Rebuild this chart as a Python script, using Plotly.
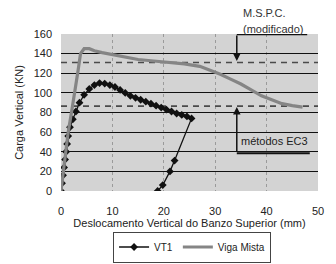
import plotly.graph_objects as go

# ---- data ----
vt1_x = [0, 0.2, 0.4, 0.6, 0.8, 1.0, 1.2, 1.4, 1.75, 2.3, 2.9, 3.6, 4.5, 5.5, 6.5, 7.5,
         8.5, 9.5, 10.5, 11.5, 12.5, 13.5, 14.5, 15.5, 16.5, 17.5, 18.5, 19.5, 20.5,
         21.5, 22.5, 23.5, 24.5, 25.4, 22.1, 21.2, 19.8, 18.8]
vt1_y = [0, 8, 16, 24, 32, 40, 48, 56, 65, 73, 81, 90, 98, 104, 108, 110,
         109.5, 108, 106, 103, 100, 97, 95, 93, 91, 89, 87, 85, 83,
         81, 79, 77.5, 76, 74, 31, 20, 6, 0]

viga_x = [0, 0.7, 1.4, 2.1, 2.7, 3.3, 3.8, 4.5, 5.5, 6.5, 8, 10, 12, 15, 18, 21, 24,
          27, 29, 31, 33, 35, 37, 39, 41, 43, 45, 47]
viga_y = [0, 30, 60, 82, 100, 122, 140, 145, 145, 143, 141, 139, 137, 134, 132.5, 131,
          129.5, 127, 123, 119, 114, 109, 103, 97, 93, 89, 87, 85.5]

ref_x = [0, 50]
mspc_level = [131, 131]
ec3_level = [86.5, 86.5]

x_ticks = [0, 10, 20, 30, 40, 50]
y_ticks = [0, 20, 40, 60, 80, 100, 120, 140, 160]

FONT = "Liberation Sans, Arial, sans-serif"

fig = go.Figure()

fig.add_trace(go.Scatter(x=ref_x, y=mspc_level, mode="lines", showlegend=False,
                         line=dict(color="#4a4a4a", width=1.6, dash="6px,5px"),
                         hoverinfo="skip"))
fig.add_trace(go.Scatter(x=ref_x, y=ec3_level, mode="lines", showlegend=False,
                         line=dict(color="#4a4a4a", width=1.6, dash="6px,5px"),
                         hoverinfo="skip"))

fig.add_trace(go.Scatter(x=vt1_x, y=vt1_y, mode="lines+markers", name="VT1",
                         line=dict(color="#111111", width=1.3),
                         marker=dict(symbol="diamond", size=6, color="#111111")))
fig.add_trace(go.Scatter(x=viga_x, y=viga_y, mode="lines", name="Viga Mista",
                         line=dict(color="#858585", width=3.2)))

# callout: M.S.P.C. (modificado)
fig.add_annotation(x=34.2, y=132.5, ax=34.2, ay=160, xref="x", yref="y",
                   axref="x", ayref="y", showarrow=True, arrowhead=2,
                   arrowsize=1, arrowwidth=1.5, arrowcolor="#111", text="")
fig.add_shape(type="line", x0=34.2, x1=47.9, y0=160, y1=160, xref="x", yref="y",
              line=dict(color="#111", width=2.5))
fig.add_annotation(x=0.70, y=1.032, xref="paper", yref="paper", xanchor="left",
                   yanchor="middle", text="(modificado)", showarrow=False,
                   font=dict(family=FONT, size=11, color="#333"))
fig.add_annotation(x=0.70, y=1.134, xref="paper", yref="paper", xanchor="left",
                   yanchor="middle", text="M.S.P.C.", showarrow=False,
                   font=dict(family=FONT, size=11, color="#333"))

# callout: métodos EC3
fig.add_annotation(x=34.2, y=85.5, ax=34.2, ay=38.5, xref="x", yref="y",
                   axref="x", ayref="y", showarrow=True, arrowhead=2,
                   arrowsize=1, arrowwidth=1.5, arrowcolor="#111", text="")
fig.add_shape(type="line", x0=34.2, x1=48.4, y0=38.5, y1=38.5, xref="x", yref="y",
              line=dict(color="#111", width=2))
fig.add_annotation(x=34.7, y=51, xref="x", yref="y", xanchor="left",
                   text="métodos EC3", showarrow=False,
                   font=dict(family=FONT, size=11, color="#222"))

# page body has an 8px margin, so the figure is offset by 8px
fig.update_layout(
    width=328, height=256,
    margin=dict(l=53, r=18, t=26, b=73, autoexpand=False),
    paper_bgcolor="white", plot_bgcolor="#d3d3d3",
    font=dict(family=FONT, size=11, color="#222"),
    showlegend=True,
    legend=dict(orientation="h", x=0.51, xanchor="center", y=-0.258, yanchor="top",
                bordercolor="#444", borderwidth=1, bgcolor="white",
                font=dict(family=FONT, size=10, color="#222"),
                itemwidth=30, tracegroupgap=0),
)
fig.update_xaxes(range=[0, 50], tickvals=x_ticks, showgrid=True,
                 gridcolor="#9a9a9a", griddash="dot", gridwidth=1,
                 zeroline=False, showline=False, ticks="", automargin=False,
                 ticklabelstandoff=12,
                 title=dict(text="Deslocamento Vertical do Banzo Superior (mm)",
                            standoff=1, font=dict(family=FONT, size=11, color="#222")))
fig.update_yaxes(range=[0, 160], tickvals=y_ticks, showgrid=True,
                 gridcolor="#111111", gridwidth=1.2,
                 zeroline=False, showline=False, ticks="", automargin=False,
                 ticklabelstandoff=8,
                 title=dict(text="Carga Vertical (KN)", standoff=7,
                            font=dict(family=FONT, size=11, color="#222")))

fig.write_html("out.html")
